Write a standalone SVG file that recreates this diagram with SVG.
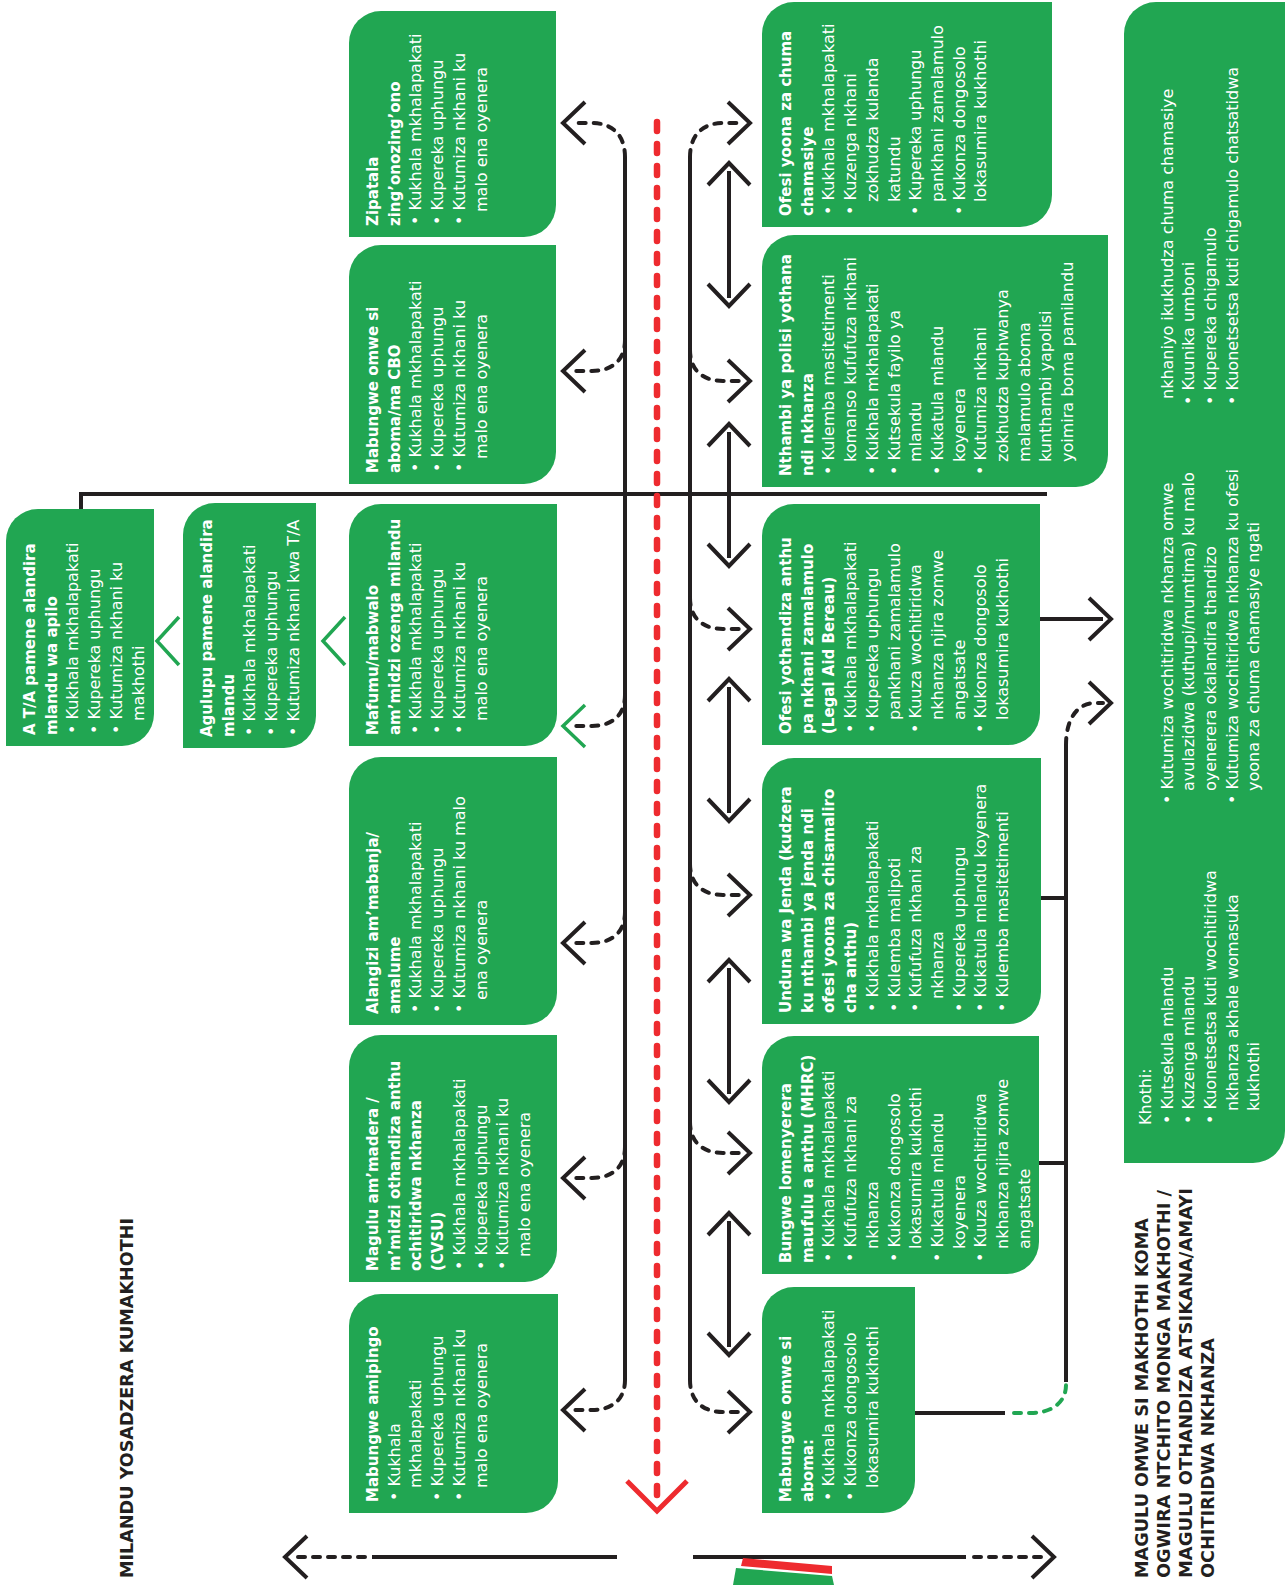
<svg xmlns="http://www.w3.org/2000/svg" width="1287" height="1585" viewBox="0 0 1287 1585">
<style>
.bg{fill:#ffffff}
.box{fill:#21A652}
.t{font-family:"DejaVu Sans",sans-serif;font-size:16px;fill:#ffffff}
.b{font-weight:bold;font-size:15px}
.ln{stroke:#231F20;stroke-width:4;fill:none}
.ds{stroke:#231F20;stroke-width:4;fill:none;stroke-dasharray:7 8;stroke-linecap:round}
.gds{stroke:#21A652;stroke-width:4;fill:none;stroke-dasharray:7 8;stroke-linecap:round}
.rds{stroke:#EE2B2F;stroke-width:6.5;fill:none;stroke-dasharray:9 13;stroke-linecap:round}
.gch{stroke:#21A652;stroke-width:3.5;fill:none}
.rch{stroke:#EE2B2F;stroke-width:5;fill:none}
.lbl{font-family:"DejaVu Sans",sans-serif;font-weight:bold;font-size:17.5px;fill:#231F20}
</style>
<defs>
<marker id="chev" viewBox="0 0 32 48" refX="18" refY="24" markerWidth="32" markerHeight="48" markerUnits="userSpaceOnUse" orient="auto-start-reverse" overflow="visible">
<path d="M4,3 L26,24 L4,45" fill="none" stroke="#231F20" stroke-width="4"/>
</marker>
<marker id="chevG" viewBox="0 0 32 48" refX="18" refY="24" markerWidth="32" markerHeight="48" markerUnits="userSpaceOnUse" orient="auto" overflow="visible">
<path d="M4,3 L26,24 L4,45" fill="none" stroke="#21A652" stroke-width="3.5"/>
</marker>
</defs>
<rect class="bg" x="0" y="0" width="1287" height="1585"/>

<g id="connectors">
<path class="ln" d="M81,494 L1047,494 M81,492 L81,510" stroke-width="4.5"/>
<path class="ln" d="M625,157 L625,1380"/>
<path class="ln" d="M690,157 L690,1380"/>
<path class="rds" d="M657,122 L657,1498"/>
<path class="rch" d="M627,1481 L657,1511 L687,1481"/>
<path class="ds" d="M625,157 C625,133 610,123 592,123 L571,123" marker-end="url(#chev)"/>
<path class="ds" d="M625,340 C625,362 610,371 592,371 L571,371" marker-end="url(#chev)"/>
<path class="ds" d="M625,695 C625,717 610,726 592,726 L571,726" marker-end="url(#chevG)"/>
<path class="ds" d="M625,912 C625,934 610,943 592,943 L571,943" marker-end="url(#chev)"/>
<path class="ds" d="M625,1147 C625,1169 610,1178 592,1178 L571,1178" marker-end="url(#chev)"/>
<path class="ds" d="M625,1380 C625,1401 610,1410 592,1410 L571,1410" marker-end="url(#chev)"/>
<path class="ds" d="M690,157 C690,133 705,123 723,123 L742,123" marker-end="url(#chev)"/>
<path class="ds" d="M690,350 C690,372 705,381 723,381 L742,381" marker-end="url(#chev)"/>
<path class="ds" d="M690,598 C690,620 705,629 723,629 L742,629" marker-end="url(#chev)"/>
<path class="ds" d="M690,864 C690,886 705,895 723,895 L742,895" marker-end="url(#chev)"/>
<path class="ds" d="M690,1122 C690,1144 705,1153 723,1153 L742,1153" marker-end="url(#chev)"/>
<path class="ds" d="M690,1380 C690,1403 705,1412 723,1412 L742,1412" marker-end="url(#chev)"/>
<path class="ln" d="M729,171 L729,298" marker-start="url(#chev)" marker-end="url(#chev)"/>
<path class="ln" d="M729,432 L729,558" marker-start="url(#chev)" marker-end="url(#chev)"/>
<path class="ln" d="M729,687 L729,813" marker-start="url(#chev)" marker-end="url(#chev)"/>
<path class="ln" d="M729,968 L729,1094" marker-start="url(#chev)" marker-end="url(#chev)"/>
<path class="ln" d="M729,1221 L729,1347" marker-start="url(#chev)" marker-end="url(#chev)"/>
<path class="gch" d="M179,617 L157,641 L179,665"/>
<path class="gch" d="M345,617 L323,641 L345,665"/>
<path class="ln" d="M1040,619 L1103,619" marker-end="url(#chev)"/>
<path class="ds" d="M1066,745 C1066,718 1078,703 1095,703 L1103,703" marker-end="url(#chev)"/>
<path class="ln" d="M1066,745 L1066,1382"/>
<path class="ln" d="M1041,898 L1066,898"/>
<path class="ln" d="M1039,1163 L1066,1163"/>
<path class="ln" d="M915,1413 L1005,1413"/>
<path class="gds" d="M1014,1413 L1030,1413 C1055,1413 1066,1400 1066,1385"/>
<path class="ln" d="M372,1557 L617,1557" stroke-width="4.5"/>
<path class="ds" d="M365,1557 L293,1557" marker-end="url(#chev)"/>
<path class="ln" d="M693,1557 L966,1557" stroke-width="4.5"/>
<path class="ds" d="M974,1557 L1046,1557" marker-end="url(#chev)"/>
</g>

<g id="deco">
<polygon points="733,1585 736,1568 832,1576 834,1585" fill="#21A652"/>
<polygon points="741,1566 743,1558 832,1566 832,1574" fill="#EE2B2F"/>
</g>

<g id="n-zipatala">
<path class="box" d="M349,43 A32,32 0 0 1 381,11 L556,11 L556,205 A32,32 0 0 1 524,237 L349,237 Z"/>
<text class="t" transform="translate(349,237) rotate(-90)">
<tspan class="b" x="11" y="29">Zipatala</tspan>
<tspan class="b" x="11" y="51">zing’onozing’ono</tspan>
<tspan x="12" y="72">• Kukhala mkhalapakati</tspan>
<tspan x="12" y="94">• Kupereka uphungu</tspan>
<tspan x="12" y="116">• Kutumiza nkhani ku</tspan>
<tspan x="25" y="138">malo ena oyenera</tspan>
</text>
</g>

<g id="n-cbo">
<path class="box" d="M349,277 A32,32 0 0 1 381,245 L556,245 L556,452 A32,32 0 0 1 524,484 L349,484 Z"/>
<text class="t" transform="translate(349,484) rotate(-90)">
<tspan class="b" x="11" y="29">Mabungwe omwe si</tspan>
<tspan class="b" x="11" y="51">aboma/ma CBO</tspan>
<tspan x="12" y="72">• Kukhala mkhalapakati</tspan>
<tspan x="12" y="94">• Kupereka uphungu</tspan>
<tspan x="12" y="116">• Kutumiza nkhani ku</tspan>
<tspan x="25" y="138">malo ena oyenera</tspan>
</text>
</g>

<g id="n-mafumu">
<path class="box" d="M349,536 A32,32 0 0 1 381,504 L557,504 L557,714 A32,32 0 0 1 525,746 L349,746 Z"/>
<text class="t" transform="translate(349,746) rotate(-90)">
<tspan class="b" x="11" y="29">Mafumu/mabwalo</tspan>
<tspan class="b" x="11" y="51">am’midzi ozenga milandu</tspan>
<tspan x="12" y="72">• Kukhala mkhalapakati</tspan>
<tspan x="12" y="94">• Kupereka uphungu</tspan>
<tspan x="12" y="116">• Kutumiza nkhani ku</tspan>
<tspan x="25" y="138">malo ena oyenera</tspan>
</text>
</g>

<g id="n-alangizi">
<path class="box" d="M349,789 A32,32 0 0 1 381,757 L557,757 L557,993 A32,32 0 0 1 525,1025 L349,1025 Z"/>
<text class="t" transform="translate(349,1025) rotate(-90)">
<tspan class="b" x="11" y="29">Alangizi am’mabanja/</tspan>
<tspan class="b" x="11" y="51">amalume</tspan>
<tspan x="12" y="72">• Kukhala mkhalapakati</tspan>
<tspan x="12" y="94">• Kupereka uphungu</tspan>
<tspan x="12" y="116">• Kutumiza nkhani ku malo</tspan>
<tspan x="25" y="138">ena oyenera</tspan>
</text>
</g>

<g id="n-magulu">
<path class="box" d="M349,1067 A32,32 0 0 1 381,1035 L557,1035 L557,1250 A32,32 0 0 1 525,1282 L349,1282 Z"/>
<text class="t" transform="translate(349,1282) rotate(-90)">
<tspan class="b" x="11" y="29">Magulu am’madera /</tspan>
<tspan class="b" x="11" y="51">m’midzi othandiza anthu</tspan>
<tspan class="b" x="11" y="72">ochitiridwa nkhanza</tspan>
<tspan class="b" x="11" y="94">(CVSU)</tspan>
<tspan x="12" y="116">• Kukhala mkhalapakati</tspan>
<tspan x="12" y="138">• Kupereka uphungu</tspan>
<tspan x="12" y="159">• Kutumiza nkhani ku</tspan>
<tspan x="25" y="181">malo ena oyenera</tspan>
</text>
</g>

<g id="n-amipingo">
<path class="box" d="M349,1326 A32,32 0 0 1 381,1294 L558,1294 L558,1481 A32,32 0 0 1 526,1513 L349,1513 Z"/>
<text class="t" transform="translate(349,1513) rotate(-90)">
<tspan class="b" x="11" y="29">Mabungwe amipingo</tspan>
<tspan x="12" y="51">• Kukhala</tspan>
<tspan x="25" y="72">mkhalapakati</tspan>
<tspan x="12" y="94">• Kupereka uphungu</tspan>
<tspan x="12" y="116">• Kutumiza nkhani ku</tspan>
<tspan x="25" y="138">malo ena oyenera</tspan>
</text>
</g>

<g id="n-ta">
<path class="box" d="M6,541 A32,32 0 0 1 38,509 L154,509 L154,714 A32,32 0 0 1 122,746 L6,746 Z"/>
<text class="t" transform="translate(6,746) rotate(-90)">
<tspan class="b" x="11" y="29">A T/A pamene alandira</tspan>
<tspan class="b" x="11" y="51">mlandu wa apilo</tspan>
<tspan x="12" y="72">• Kukhala mkhalapakati</tspan>
<tspan x="12" y="94">• Kupereka uphungu</tspan>
<tspan x="12" y="116">• Kutumiza nkhani ku</tspan>
<tspan x="25" y="138">makhothi</tspan>
</text>
</g>

<g id="n-agulupu">
<path class="box" d="M183,535 A32,32 0 0 1 215,503 L316,503 L316,716 A32,32 0 0 1 284,748 L183,748 Z"/>
<text class="t" transform="translate(183,748) rotate(-90)">
<tspan class="b" x="11" y="29">Agulupu pamene alandira</tspan>
<tspan class="b" x="11" y="51">mlandu</tspan>
<tspan x="12" y="72">• Kukhala mkhalapakati</tspan>
<tspan x="12" y="94">• Kupereka uphungu</tspan>
<tspan x="12" y="116">• Kutumiza nkhani kwa T/A</tspan>
</text>
</g>

<g id="n-ofesi-chuma">
<path class="box" d="M762,34 A32,32 0 0 1 794,2 L1052,2 L1052,195 A32,32 0 0 1 1020,227 L762,227 Z"/>
<text class="t" transform="translate(762,227) rotate(-90)">
<tspan class="b" x="11" y="29">Ofesi yoona za chuma</tspan>
<tspan class="b" x="11" y="51">chamasiye</tspan>
<tspan x="12" y="72">• Kukhala mkhalapakati</tspan>
<tspan x="12" y="94">• Kuzenga nkhani</tspan>
<tspan x="25" y="116">zokhudza kulanda</tspan>
<tspan x="25" y="138">katundu</tspan>
<tspan x="12" y="159">• Kupereka uphungu</tspan>
<tspan x="25" y="181">pankhani zamalamulo</tspan>
<tspan x="12" y="203">• Kukonza dongosolo</tspan>
<tspan x="25" y="224">lokasumira kukhothi</tspan>
</text>
</g>

<g id="n-nthambi">
<path class="box" d="M762,267 A32,32 0 0 1 794,235 L1108,235 L1108,455 A32,32 0 0 1 1076,487 L762,487 Z"/>
<text class="t" transform="translate(762,487) rotate(-90)">
<tspan class="b" x="11" y="29">Nthambi ya polisi yothana</tspan>
<tspan class="b" x="11" y="51">ndi nkhanza</tspan>
<tspan x="12" y="72">• Kulemba masitetimenti</tspan>
<tspan x="25" y="94">komanso kufufuza nkhani</tspan>
<tspan x="12" y="116">• Kukhala mkhalapakati</tspan>
<tspan x="12" y="138">• Kutsekula fayilo ya</tspan>
<tspan x="25" y="159">mlandu</tspan>
<tspan x="12" y="181">• Kukatula mlandu</tspan>
<tspan x="25" y="203">koyenera</tspan>
<tspan x="12" y="224">• Kutumiza nkhani</tspan>
<tspan x="25" y="246">zokhudza kuphwanya</tspan>
<tspan x="25" y="268">malamulo aboma</tspan>
<tspan x="25" y="289">kunthambi yapolisi</tspan>
<tspan x="25" y="311">yoimira boma pamilandu</tspan>
</text>
</g>

<g id="n-legal-aid">
<path class="box" d="M762,536 A32,32 0 0 1 794,504 L1040,504 L1040,713 A32,32 0 0 1 1008,745 L762,745 Z"/>
<text class="t" transform="translate(762,745) rotate(-90)">
<tspan class="b" x="11" y="29">Ofesi yothandiza anthu</tspan>
<tspan class="b" x="11" y="51">pa nkhani zamalamulo</tspan>
<tspan class="b" x="11" y="72">(Legal Aid Bereau)</tspan>
<tspan x="12" y="94">• Kukhala mkhalapakati</tspan>
<tspan x="12" y="116">• Kupereka uphungu</tspan>
<tspan x="25" y="138">pankhani zamalamulo</tspan>
<tspan x="12" y="159">• Kuuza wochitiridwa</tspan>
<tspan x="25" y="181">nkhanza njira zomwe</tspan>
<tspan x="25" y="203">angatsate</tspan>
<tspan x="12" y="224">• Kukonza dongosolo</tspan>
<tspan x="25" y="246">lokasumira kukhothi</tspan>
</text>
</g>

<g id="n-unduna">
<path class="box" d="M762,790 A32,32 0 0 1 794,758 L1041,758 L1041,992 A32,32 0 0 1 1009,1024 L762,1024 Z"/>
<text class="t" transform="translate(762,1024) rotate(-90)">
<tspan class="b" x="11" y="29">Unduna wa Jenda (kudzera</tspan>
<tspan class="b" x="11" y="51">ku nthambi ya jenda ndi</tspan>
<tspan class="b" x="11" y="72">ofesi yoona za chisamaliro</tspan>
<tspan class="b" x="11" y="94">cha anthu)</tspan>
<tspan x="12" y="116">• Kukhala mkhalapakati</tspan>
<tspan x="12" y="138">• Kulemba malipoti</tspan>
<tspan x="12" y="159">• Kufufuza nkhani za</tspan>
<tspan x="25" y="181">nkhanza</tspan>
<tspan x="12" y="203">• Kupereka uphungu</tspan>
<tspan x="12" y="224">• Kukatula mlandu koyenera</tspan>
<tspan x="12" y="246">• Kulemba masitetimenti</tspan>
</text>
</g>

<g id="n-mhrc">
<path class="box" d="M762,1068 A32,32 0 0 1 794,1036 L1039,1036 L1039,1242 A32,32 0 0 1 1007,1274 L762,1274 Z"/>
<text class="t" transform="translate(762,1274) rotate(-90)">
<tspan class="b" x="11" y="29">Bungwe lomenyerera</tspan>
<tspan class="b" x="11" y="51">maufulu a anthu (MHRC)</tspan>
<tspan x="12" y="72">• Kukhala mkhalapakati</tspan>
<tspan x="12" y="94">• Kufufuza nkhani za</tspan>
<tspan x="25" y="116">nkhanza</tspan>
<tspan x="12" y="138">• Kukonza dongosolo</tspan>
<tspan x="25" y="159">lokasumira kukhothi</tspan>
<tspan x="12" y="181">• Kukatula mlandu</tspan>
<tspan x="25" y="203">koyenera</tspan>
<tspan x="12" y="224">• Kuuza wochitiridwa</tspan>
<tspan x="25" y="246">nkhanza njira zomwe</tspan>
<tspan x="25" y="268">angatsate</tspan>
</text>
</g>

<g id="n-ngo">
<path class="box" d="M762,1319 A32,32 0 0 1 794,1287 L915,1287 L915,1481 A32,32 0 0 1 883,1513 L762,1513 Z"/>
<text class="t" transform="translate(762,1513) rotate(-90)">
<tspan class="b" x="11" y="29">Mabungwe omwe si</tspan>
<tspan class="b" x="11" y="51">aboma:</tspan>
<tspan x="12" y="72">• Kukhala mkhalapakati</tspan>
<tspan x="12" y="94">• Kukonza dongosolo</tspan>
<tspan x="25" y="116">lokasumira kukhothi</tspan>
</text>
</g>

<g id="n-khothi">
<path class="box" d="M1124,34 A32,32 0 0 1 1156,2 L1285,2 L1285,1131 A32,32 0 0 1 1253,1163 L1124,1163 Z"/>
<text class="t" transform="translate(1124,1163) rotate(-90)">
<tspan x="38" y="27">Khothi:</tspan>
<tspan x="39" y="49">• Kutsekula mlandu</tspan>
<tspan x="39" y="70">• Kuzenga mlandu</tspan>
<tspan x="39" y="92">• Kuonetsetsa kuti wochitiridwa</tspan>
<tspan x="52" y="114">nkhanza akhale womasuka</tspan>
<tspan x="52" y="135">kukhothi</tspan>
<tspan x="359" y="49">• Kutumiza wochitiridwa nkhanza omwe</tspan>
<tspan x="372" y="70">avulazidwa (kuthupi/mumtima) ku malo</tspan>
<tspan x="372" y="92">oyenerera okalandira thandizo</tspan>
<tspan x="359" y="114">• Kutumiza wochitiridwa nkhanza ku ofesi</tspan>
<tspan x="372" y="135">yoona za chuma chamasiye ngati</tspan>
<tspan x="764" y="49">nkhaniyo ikukhudza chuma chamasiye</tspan>
<tspan x="758" y="70">• Kuunika umboni</tspan>
<tspan x="758" y="92">• Kupereka chigamulo</tspan>
<tspan x="758" y="114">• Kuonetsetsa kuti chigamulo chatsatidwa</tspan>
</text>
</g>

<g id="label-left">
<text class="lbl" transform="translate(133,1578) rotate(-90)" textLength="360" lengthAdjust="spacingAndGlyphs">MILANDU YOSADZERA KUMAKHOTHI</text>
</g>
<g id="label-right">
<text class="lbl" transform="translate(1148,1578) rotate(-90)" textLength="360" lengthAdjust="spacingAndGlyphs">MAGULU OMWE SI MAKHOTHI KOMA</text>
<text class="lbl" transform="translate(1170,1578) rotate(-90)" textLength="388" lengthAdjust="spacingAndGlyphs">OGWIRA NTCHITO MONGA MAKHOTHI /</text>
<text class="lbl" transform="translate(1192,1578) rotate(-90)" textLength="390" lengthAdjust="spacingAndGlyphs">MAGULU OTHANDIZA ATSIKANA/AMAYI</text>
<text class="lbl" transform="translate(1214,1578) rotate(-90)" textLength="240" lengthAdjust="spacingAndGlyphs">OCHITIRIDWA NKHANZA</text>
</g>
</svg>
